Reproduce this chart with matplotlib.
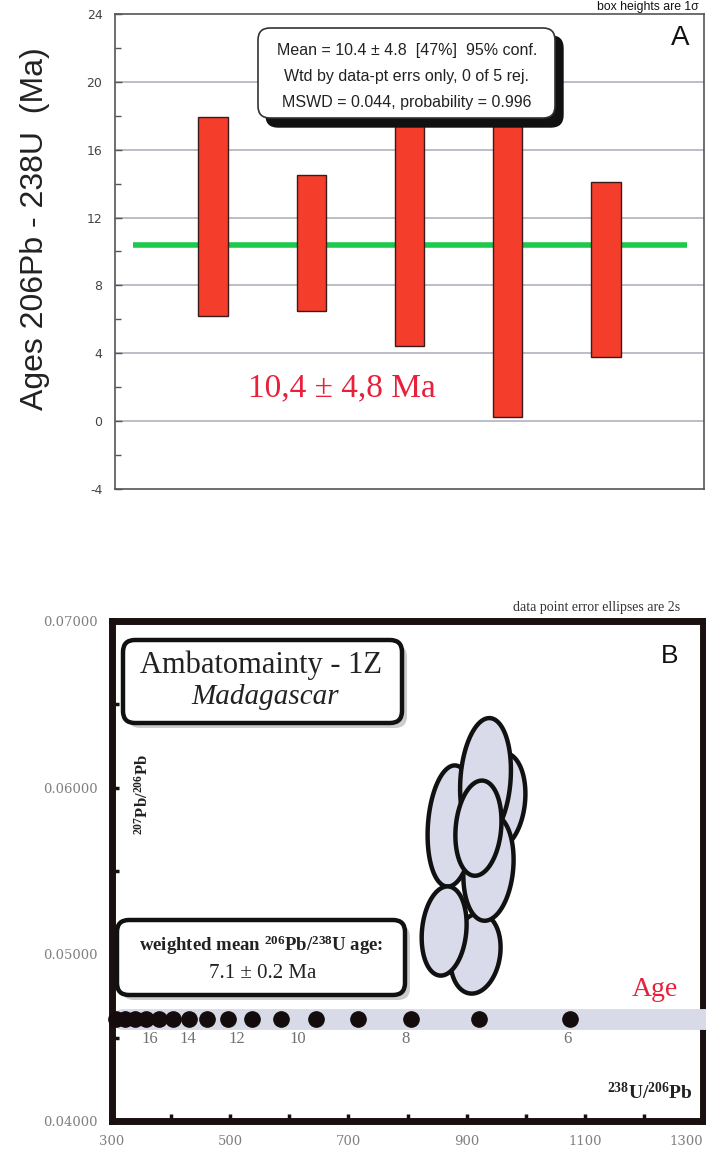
import numpy as np
import matplotlib
matplotlib.use("Agg")
import matplotlib.pyplot as plt
from matplotlib.patches import FancyBboxPatch, Polygon

plt.rcParams['mathtext.fontset'] = 'custom'
plt.rcParams['mathtext.rm'] = 'Liberation Serif'
plt.rcParams['mathtext.bf'] = 'Liberation Serif:bold'
plt.rcParams['mathtext.it'] = 'Liberation Serif:italic'
plt.rcParams['axes.unicode_minus'] = False

# ---------------- Panel A data ----------------
spots = [1, 2, 3, 4, 5]
box_low = [6.2, 6.5, 4.4, 0.25, 3.8]
box_high = [17.9, 14.5, 17.5, 21.0, 14.1]
mean_age = 10.4
a_yticks = [-4, 0, 4, 8, 12, 16, 20, 24]

# ---------------- Panel B data ----------------
ell_x = [957, 915, 937, 874, 932, 862, 920]           # 238U/206Pb centres
ell_y = [0.05920, 0.05005, 0.05520, 0.05770, 0.06050, 0.05140, 0.05757]
ell_w = [85, 85, 85, 80, 86, 76, 78]                  # full 2s width
ell_h = [0.00577, 0.00481, 0.00637, 0.00727, 0.00735, 0.00535, 0.00571]
ell_rho = [0.15, 0.15, 0.15, 0.15, 0.15, 0.15, 0.15]

conc_age = [6, 7, 8, 9, 10, 11, 12, 13, 14, 15, 16, 17, 18, 19, 20, 21]
conc_x = [1075, 921, 806, 716, 645, 586, 537, 496, 460, 430, 403, 379, 358, 339, 322, 307]
conc_y = [0.0461] * 16
conc_labels = ['6', '8', '10', '12', '14', '16']
conc_label_x = [1070, 797, 615, 512, 428, 364]

b_xticks = [300, 500, 700, 900, 1100, 1300]
b_yticks = [0.04, 0.05, 0.06, 0.07]

W, H = 706, 1158
fig = plt.figure(figsize=(W / 100, H / 100), dpi=100)
fig.patch.set_facecolor('white')
T = fig.dpi_scale_trans


def P(x, y):
    return (x / 100.0, (H - y) / 100.0)


def rbox(x0, y0, x1, y1, fc, ec, lw, r, z):
    p = FancyBboxPatch(P(x0, y1), (x1 - x0) / 100.0, (y1 - y0) / 100.0,
                       boxstyle="round,pad=0,rounding_size=%f" % (r / 100.0),
                       transform=T, facecolor=fc, edgecolor=ec, linewidth=lw,
                       zorder=z)
    fig.add_artist(p)
    return p


# ================= Panel A =================
axA = fig.add_axes([115 / W, 1 - 489 / H, 589 / W, 475 / H])
axA.set_xlim(0, 6)
axA.set_ylim(-4, 24)
for s in axA.spines.values():
    s.set_color('#555555')
    s.set_linewidth(1.2)
axA.set_xticks([])
axA.set_yticks(a_yticks)
axA.set_yticks(np.arange(-4, 25, 2), minor=True)
axA.tick_params(axis='y', which='major', direction='in', length=5, width=1,
                color='#555555', labelsize=9, labelcolor='#444444', pad=9)
axA.tick_params(axis='y', which='minor', direction='in', length=4, width=1,
                color='#555555')
for v in [0, 4, 8, 12, 16, 20]:
    axA.axhline(v, color='#b8b8c4', lw=1.3, zorder=1)

axA.plot([0.18, 5.83], [mean_age, mean_age], color='#1ec84a', lw=4,
         solid_capstyle='butt', zorder=2)
axA.bar(spots, [h - l for h, l in zip(box_high, box_low)], bottom=box_low,
        width=0.3, color='#f53d2b', edgecolor='#3a1a1a', linewidth=1.0, zorder=3)

axA.text(0.385, 0.213, '10,4 ± 4,8 Ma', transform=axA.transAxes,
         fontsize=24, color='#e8203a', family='Liberation Serif',
         ha='center', va='center')

fig.text(*P(35, 229), 'Ages 206Pb - 238U  (Ma)', transform=T, rotation=90,
         fontsize=23, family='Liberation Sans', color='#222222',
         ha='center', va='center')
fig.text(*P(680, 38), 'A', transform=T, fontsize=20, family='Liberation Sans',
         ha='center', va='center', color='#111111')
fig.text(*P(597, 7), 'box heights are 1σ', transform=T, fontsize=8.8,
         family='Liberation Sans', ha='left', va='center', color='#111111')

# stats box
rbox(266, 36, 563, 127, '#111111', '#111111', 1, 12, 5)
rbox(258, 28, 555, 118, 'white', '#333333', 1.2, 12, 6)
for yy, txt in [(50, 'Mean = 10.4 ± 4.8  [47%]  95% conf.'),
                (76, 'Wtd by data-pt errs only, 0 of 5 rej.'),
                (102, 'MSWD = 0.044, probability = 0.996')]:
    fig.text(*P(407, yy), txt, transform=T, fontsize=11.5,
             family='Liberation Sans', ha='center', va='center',
             color='#222222', zorder=7)

# ================= Panel B =================
axB = fig.add_axes([112 / W, 1 - 1121 / H, 591 / W, 500 / H])
axB.set_xlim(300, 1300)
axB.set_ylim(0.04, 0.07)
for s in axB.spines.values():
    s.set_color('#1a1010')
    s.set_linewidth(5)
axB.set_xticks(b_xticks)
axB.set_xticks(np.arange(300, 1301, 100), minor=True)
axB.set_yticks(b_yticks)
axB.set_yticks(np.arange(0.04, 0.0701, 0.005), minor=True)
axB.set_yticklabels(['%.5f' % v for v in b_yticks])
axB.tick_params(which='both', direction='in', length=5, width=2.5,
                color='#111111')
axB.tick_params(which='major', labelsize=9.5, labelcolor='#808080', pad=10)
for lab in axB.get_xticklabels() + axB.get_yticklabels():
    lab.set_family('DejaVu Serif')
axB.get_xticklabels()[-1].set_horizontalalignment('right')

# concordia band
axB.plot([317, 1300], [conc_y[0], conc_y[0]], color='#d8dae8', lw=15,
         solid_capstyle='round', zorder=5, clip_on=False)
axB.plot([1300, 1320], [conc_y[0], conc_y[0]], color='#d8dae8', lw=15,
         solid_capstyle='butt', zorder=5, clip_on=False)
axB.plot(conc_x, conc_y, 'o', color='#140c0c', markersize=11, zorder=6,
         clip_on=False)
for lab, lx in zip(conc_labels, conc_label_x):
    axB.text(lx, 0.0449, lab, fontsize=12, family='Liberation Serif',
             color='#707070', ha='center', va='center')

# error ellipses
tt = np.linspace(0, 2 * np.pi, 200)
for i in range(len(ell_x)):
    a = ell_w[i] / 2.0
    b = ell_h[i] / 2.0
    r = ell_rho[i]
    ex = ell_x[i] + a * np.cos(tt)
    ey = ell_y[i] + b * (r * np.cos(tt) + np.sqrt(1 - r * r) * np.sin(tt))
    axB.add_patch(Polygon(np.column_stack([ex, ey]), closed=True,
                          facecolor='#d9dbeb', edgecolor='#111111',
                          linewidth=3.2, zorder=4 + i * 0.01))

# boxes
rbox(128, 645, 407, 728, '#cccccc', 'none', 0, 12, 5)
rbox(123, 640, 402, 723, 'white', '#111111', 3.2, 12, 6)
fig.text(*P(261, 665), 'Ambatomainty - 1Z', transform=T, fontsize=22,
         family='Liberation Serif', ha='center', va='center',
         color='#222222', zorder=7)
fig.text(*P(265, 697), 'Madagascar', transform=T, fontsize=21,
         family='Liberation Serif', style='italic', ha='center',
         va='center', color='#222222', zorder=7)

rbox(122, 925, 410, 1000, '#cccccc', 'none', 0, 12, 5)
rbox(117, 920, 405, 995, 'white', '#111111', 3.2, 12, 6)
fig.text(*P(261, 945),
         r'weighted mean $^{\mathbf{206}}$Pb/$^{\mathbf{238}}$U age:',
         transform=T, fontsize=13.5, family='Liberation Serif',
         weight='bold', ha='center', va='center', color='#222222', zorder=7)
fig.text(*P(263, 973), '7.1 ± 0.2 Ma', transform=T, fontsize=15,
         family='Liberation Serif', ha='center', va='center',
         color='#222222', zorder=7)

fig.text(*P(143, 795), r'$^{\mathbf{207}}$Pb/$^{\mathbf{206}}$Pb', transform=T,
         rotation=90, fontsize=12, family='Liberation Serif', weight='bold',
         ha='center', va='center', color='#222222')
fig.text(*P(650, 1092), r'$^{\mathbf{238}}$U/$^{\mathbf{206}}$Pb', transform=T,
         fontsize=14, family='Liberation Serif', weight='bold',
         ha='center', va='center', color='#222222')
fig.text(*P(655, 990), 'Age', transform=T, fontsize=20,
         family='Liberation Serif', ha='center', va='center', color='#e8203a')
fig.text(*P(670, 656), 'B', transform=T, fontsize=19, family='Liberation Sans',
         ha='center', va='center', color='#111111')
fig.text(*P(597, 607), 'data point error ellipses are 2s', transform=T,
         fontsize=10, family='Liberation Serif', ha='center', va='center',
         color='#333333')

fig.savefig('out.png', dpi=100, facecolor='white')
